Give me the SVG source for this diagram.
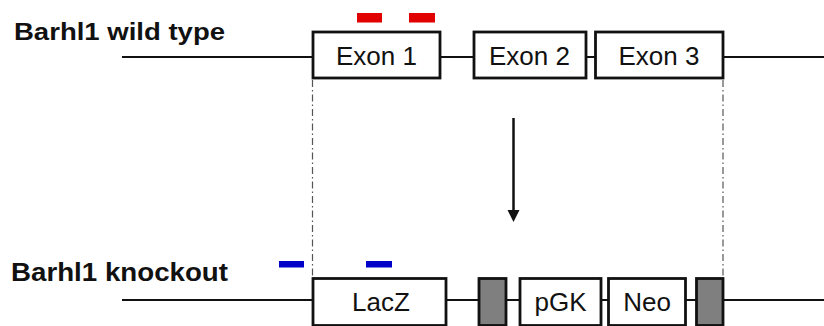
<svg xmlns="http://www.w3.org/2000/svg" width="824" height="326" viewBox="0 0 824 326">
<style>
.lbl{font-family:"Liberation Sans",Arial,sans-serif;font-weight:bold;font-size:24px;fill:#111}
.t{font-family:"Liberation Sans",Arial,sans-serif;font-size:26px;fill:#111;text-anchor:middle}
.box{fill:#fff;stroke:#111;stroke-width:2.8}
.gbox{fill:#7f7f7f;stroke:#111;stroke-width:2.8}
.ln{stroke:#111;stroke-width:2.2;fill:none}
.dd{stroke:#555;stroke-width:1.2;stroke-dasharray:7 3 1.5 3;fill:none}
</style>
<rect width="824" height="326" fill="#fff"/>
<g id="connectors">
<line class="ln" x1="122" y1="57" x2="824" y2="57"/>
<line class="ln" x1="122" y1="300" x2="824" y2="300"/>
<line class="dd" x1="312.5" y1="80" x2="312.5" y2="277"/>
<line class="dd" x1="723" y1="80" x2="723" y2="277"/>
<line x1="513.5" y1="118" x2="513.5" y2="212" stroke="#111" stroke-width="2.5"/>
<path d="M507.5,210 L519.5,210 L513.5,222 Z" fill="#111"/>
</g>
<g id="label-wt"><text class="lbl" x="14" y="40" textLength="211" lengthAdjust="spacingAndGlyphs">Barhl1 wild type</text></g>
<g id="label-ko"><text class="lbl" x="11" y="281" style="font-size:26px" textLength="217" lengthAdjust="spacingAndGlyphs">Barhl1 knockout</text></g>
<g id="probe-red-1"><rect x="357" y="13" width="25" height="9.5" fill="#e10000"/></g>
<g id="probe-red-2"><rect x="409" y="13" width="26" height="9.5" fill="#e10000"/></g>
<g id="probe-blue-1"><rect x="279" y="261" width="25" height="6.5" fill="#0000c8"/></g>
<g id="probe-blue-2"><rect x="366" y="261" width="26" height="6.5" fill="#0000c8"/></g>
<g id="exon1"><rect class="box" x="313" y="32" width="127" height="46"/><text class="t" x="376.5" y="64.5">Exon 1</text></g>
<g id="exon2"><rect class="box" x="474" y="32" width="112" height="46"/><text class="t" x="529.5" y="64.5">Exon 2</text></g>
<g id="exon3"><rect class="box" x="595.5" y="32" width="127.5" height="46"/><text class="t" x="659" y="64.5">Exon 3</text></g>
<g id="lacz"><rect class="box" x="313" y="278.5" width="133" height="47"/><text class="t" x="381" y="310.5">LacZ</text></g>
<g id="gray1"><rect class="gbox" x="479" y="278.5" width="27" height="47"/></g>
<g id="pgk"><rect class="box" x="520" y="278.5" width="81" height="47"/><text class="t" x="560.5" y="310.5">pGK</text></g>
<g id="neo"><rect class="box" x="608.5" y="278.5" width="77" height="47"/><text class="t" x="647" y="310.5">Neo</text></g>
<g id="gray2"><rect class="gbox" x="696.5" y="278.5" width="26.5" height="47"/></g>
</svg>
